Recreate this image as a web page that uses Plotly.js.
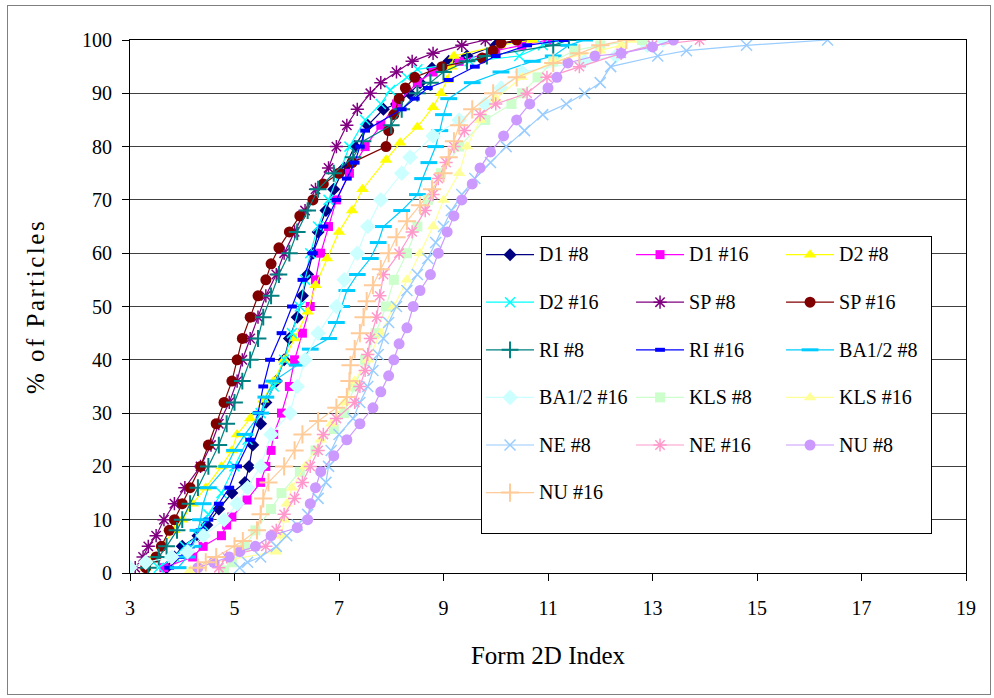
<!DOCTYPE html>
<html><head><meta charset="utf-8">
<script src="https://cdn.plot.ly/plotly-3.0.1.min.js"></script>
<style>
html,body{margin:0;padding:0;background:#fff;}
#wrap{position:relative;width:994px;height:698px;}
#chart{width:994px;height:698px;}
#frame{position:absolute;left:7px;top:5px;width:982px;height:688px;border:1px solid #808080;pointer-events:none;}
.ytitle{letter-spacing:2.5px;}
</style></head><body>
<div id="wrap"><div id="chart"></div><div id="frame"></div></div>
<script>
// ---- data (x = Form 2D Index, y = % of Particles) ----
const d1_8_x = [3.7,3.85,4.0,4.3,4.47,4.7,4.95,5.2,5.28,5.35,5.5,5.6,5.8,5.95,6.05,6.2,6.3,6.4,6.5,6.6,6.75,6.9,7.1,7.3,7.55,7.85,8.1,8.35,8.55,8.78,9.1,9.45,10.0,10.5];
const d1_8_y = [1,3,5,7,9,12,15,17,20,24,28,32,36,40,44,48,52,56,60,64,68,72,76,80,84,87,88,90,92,94.7,96,97,99,100];

const d1_16_x = [3.65,4.2,4.4,4.75,4.85,4.95,5.24,5.5,5.6,5.7,5.75,5.9,6.05,6.15,6.3,6.45,6.55,6.65,6.8,6.95,7.2,7.5,7.8,8.1,8.5,8.8,9.3,10.0,10.5,11.0];
const d1_16_y = [1,3,5,7,9,10.5,13.7,17,20,23,26,30,35,40,45,50,55,60,65,70,75,80,84,88,92,94,96,98,99,100];

const d2_8_x = [3.3,3.45,3.6,3.85,4.0,4.2,4.45,4.75,4.95,5.05,5.3,5.55,5.75,5.95,6.15,6.4,6.55,6.77,7.0,7.25,7.45,7.9,8.17,8.5,8.8,8.95,9.07,9.15,9.2,10.08,10.7];
const d2_8_y = [1,3,5,8,10,13,16,20,23,26,29,32.5,36,40,44,49,54,59,64,68,72,77.5,80.7,83.7,87.4,90,92.5,95,97,99,100];

const d2_16_x = [3.55,3.85,4.05,4.3,4.4,4.5,4.75,5.0,5.25,5.5,5.75,5.95,6.1,6.25,6.35,6.45,6.6,6.8,7.0,7.2,7.5,7.8,7.98,8.3,8.5,9.5,10.45,10.9,11.15];
const d2_16_y = [1,3,5,7,9,11,15,20,25,30,35,40,45,50,55,60,65,70,75,80,85,88,90.6,93,94.5,96,97,99,100];

const sp_8_x = [3.1,3.25,3.35,3.5,3.65,3.85,4.05,4.35,4.55,4.7,4.9,5.05,5.15,5.3,5.45,5.6,5.8,5.95,6.15,6.35,6.55,6.8,6.95,7.15,7.35,7.6,7.8,8.1,8.4,8.8,9.35,9.8];
const sp_8_y = [1,3,5,7,10,13,16,20,24,28,32,36,40,44,48,52,56,60,64,68,72,76,80,84,87,90,92,94,96,97.5,99,100];

const sp_16_x = [3.3,3.5,3.6,3.75,3.85,4.0,4.15,4.35,4.5,4.65,4.8,4.95,5.05,5.15,5.3,5.45,5.6,5.7,5.85,6.05,6.25,6.5,6.7,7.0,7.25,7.9,7.95,8.05,8.15,8.27,8.45,8.97,9.74,9.95,10.1,10.4];
const sp_16_y = [1,3,5,8,10,13,16,20,24,28,32,36,40,44,48,52,55,58,61,64,67,70,73,75,77,80,83,86,89,91,93,95,96.6,98,99.4,100];

const ri_8_x = [3.35,3.55,3.7,3.9,4.0,4.15,4.3,4.5,4.7,4.85,5.0,5.15,5.3,5.45,5.55,5.7,5.85,6.05,6.2,6.4,6.6,6.9,7.27,7.46,8.0,8.2,8.5,8.75,9.0,9.45,9.83,11.1,11.4];
const ri_8_y = [1,3,5,8,10,13,16,20,24,28,32,36,40,44,48,52,56,60,64,68,72,75,78,81,84,87,90,92,94,96,97,99,100];

const ri_16_x = [3.75,3.95,4.15,4.35,4.5,4.7,4.9,5.05,5.3,5.45,5.55,5.68,5.9,6.1,6.3,6.5,6.7,6.95,7.15,7.3,7.4,7.5,8.2,8.45,8.7,9.1,9.6,10.0,10.6,11.3];
const ri_16_y = [1,3,5,8,10,13,16,20,25,30,35,40,45,50,55,60,65,70,74,77,80,83,87,89,91,92.5,95,97,99,100];

const ba_8_x = [3.92,4.1,4.2,4.3,4.35,4.4,4.5,4.85,5.0,5.2,5.5,5.6,5.75,6.2,6.45,6.8,6.95,7.05,7.15,7.35,7.6,7.75,7.85,8.2,8.5,8.6,8.72,8.85,8.93,9.0,9.1,9.55,10.1,10.7,11.1,11.4,11.7];
const ba_8_y = [1,3,5,8,10,13,16,20,23,26,30,33,36,39,42,44,47,50,53,56,59,62,65,68,71,74,77,80,83,86,89,92,94,96,97,99,100];

const ba_16_x = [3.0,3.3,3.8,4.1,4.4,4.8,5.05,5.25,5.5,5.7,6.06,6.2,6.35,6.6,6.95,7.1,7.35,7.55,7.8,8.2,8.36,8.8,9.3,9.8,10.1,10.5,11.7,12.3,12.9,13.2];
const ba_16_y = [1,2,3,4,7,10,13,16,20,26,30,35,40,45,50,55,60,65,70,75,78,82,85,88,91,94,96,97,99,100];

const kls_8_x = [4.8,4.95,5.2,5.4,5.7,5.9,6.25,6.55,6.9,7.1,7.3,7.5,7.7,7.9,8.05,8.3,8.5,8.7,8.95,9.3,9.8,10.3,10.5,10.8,11.1,11.5,12.0,12.8];
const kls_8_y = [0.5,2,5,8,12,15,19,23,27,30,35,40,45,50,55,60,65,70,75,80,85,88,90,93,96,98,99,100];

const kls_16_x = [4.15,4.6,5.8,5.9,5.95,6.0,6.1,6.35,6.65,6.85,7.1,7.3,7.55,7.8,8.05,8.3,8.55,8.8,9.0,9.3,9.45,9.7,10.0,10.5,11.1,12.0,12.4,12.6];
const kls_16_y = [0.5,2,4,7,10,13,16,20,25,28,32,36,40,45,50,55,60,65,70,75,80,85,89,93,96,98,99,100];

const ne_8_x = [5.1,5.25,5.5,5.8,6.0,6.2,6.4,6.6,6.75,6.8,6.85,7.0,7.27,7.4,7.55,7.65,7.75,7.85,7.95,8.1,8.3,8.5,8.7,8.85,9.0,9.15,9.35,9.6,9.9,10.2,10.55,10.9,11.35,11.7,12.0,12.2,13.1,13.65,14.8,16.35];
const ne_8_y = [1,2,3,5,7,9,11,14,17,20,23,26,29,32,35,38,41,44,47,50,53,56,59,62,65,68,71,74,77,80,83,86,88,90,92,95,97,98,99,100];

const ne_16_x = [4.7,4.85,5.6,5.8,5.95,6.15,6.3,6.45,6.6,6.7,6.95,7.3,7.4,7.5,7.55,7.6,7.72,7.78,7.85,8.15,8.4,8.65,8.8,8.9,9.05,9.2,9.4,9.7,10.0,10.6,10.98,11.6,12.4,13.0,13.9];
const ne_16_y = [1,3,5,8,11,14,17,20,23,26,29,32,35,38,41,44,48,52,56,60,64,68,71,74,77,80,83,86,88,90,93,95,97.5,99,100];

const nu_8_x = [4.3,4.6,4.9,5.1,5.4,5.7,6.2,6.4,6.45,6.55,6.65,6.9,7.15,7.4,7.65,7.8,7.95,8.05,8.15,8.3,8.42,8.55,8.75,8.9,9.07,9.2,9.35,9.55,9.7,9.9,10.15,10.4,10.65,11.0,11.17,11.38,11.9,12.4,13.0,13.4];
const nu_8_y = [1,2,3,4,5,7,8.5,10,13,16,19,22,25,28,31,34,37,40,43,46,50,53,56,60,64,67,70,73,76,79,82,85,88,91,93,95.7,97,97.5,98.7,100];

const nu_16_x = [4.3,4.45,4.65,5.0,5.16,5.43,5.5,5.55,5.65,5.95,6.15,6.3,6.6,6.95,7.15,7.2,7.22,7.3,7.4,7.47,7.53,7.65,7.8,7.95,8.1,8.3,8.55,8.78,9.0,9.1,9.2,9.3,9.55,9.95,10.4,11.1,11.6,12.0,12.5];
const nu_16_y = [1,2,3,5,6,8,11,14,17,20,23,26,28.5,31,33,36,39,42,45,48,51,54,57,60,63,66,69,72,75,78,81,84,87,90,93,95.7,97.5,99,100];

const seriesNames = ['D1 #8','D1 #16','D2 #8','D2 #16','SP #8','SP #16','RI #8','RI #16','BA1/2 #8','BA1/2 #16','KLS #8','KLS #16','NE #8','NE #16','NU #8','NU #16'];
const seriesX = [d1_8_x,d1_16_x,d2_8_x,d2_16_x,sp_8_x,sp_16_x,ri_8_x,ri_16_x,ba_8_x,ba_16_x,kls_8_x,kls_16_x,ne_8_x,ne_16_x,nu_8_x,nu_16_x];
const seriesY = [d1_8_y,d1_16_y,d2_8_y,d2_16_y,sp_8_y,sp_16_y,ri_8_y,ri_16_y,ba_8_y,ba_16_y,kls_8_y,kls_16_y,ne_8_y,ne_16_y,nu_8_y,nu_16_y];
const xTicks = [3,5,7,9,11,13,15,17,19];
const yTicks = [0,10,20,30,40,50,60,70,80,90,100];

// ---- styles ----
const colors = ['#000080','#FF00FF','#FFFF00','#00FFFF','#800080','#800000','#008080','#0000FF','#00CCFF','#CCFFFF','#CCFFCC','#FFFF99','#99CCFF','#FF99CC','#CC99FF','#FFCC99'];
const symbols = ['diamond','square','triangle-up','x-thin-open','asterisk-open','circle','cross-thin-open','line-ew-open','line-ew-open','diamond','square','triangle-up','x-thin-open','asterisk-open','circle','cross-thin-open'];
const sizes = [10,9,11,10,11,11,12,7,12,12,10,11,11,11,11,13];
const mlw = [0,0,0,1.5,1.5,0,2,4,3,0,0,0,1.5,1.5,0,2];
const groups = ['c1','c2','c3','c1','c2','c3','c1','c2','c3','c1','c2','c3','c1','c2','c3','c1'];

const FONT = 'Liberation Serif, Times New Roman, serif';
const traces = seriesNames.map((n,i)=>({
  type:'scatter', mode:'lines+markers', name:'<span style="font-size:20px">'+n+'</span><br>\u00a0',
  x:seriesX[i], y:seriesY[i], legendgroup:groups[i],
  line:{color:colors[i], width:1.2},
  marker:{symbol:symbols[i], size:sizes[i], color:colors[i], line:{width:mlw[i], color:colors[i]}},
  hoverinfo:'x+y'
}));

const layout = {
  width:994, height:698,
  margin:{l:130, r:28, t:40, b:125},
  paper_bgcolor:'#fff', plot_bgcolor:'#fff',
  font:{family:FONT, color:'#000', size:20},
  showlegend:true,
  xaxis:{range:[3,19], tickvals:xTicks, ticks:'outside', ticklen:7, tickcolor:'#000',
    showline:true, linecolor:'#000', linewidth:1, mirror:true, showgrid:false, zeroline:false,
    tickfont:{family:FONT, size:20, color:'#000'}, ticklabelstandoff:10,
    title:{text:'Form 2D Index', font:{family:FONT, size:25, color:'#000'}, standoff:28}},
  yaxis:{range:[0,100], tickvals:yTicks, ticks:'outside', ticklen:7, tickcolor:'#000',
    showline:true, linecolor:'#000', linewidth:1, mirror:true, showgrid:true, gridcolor:'#404040', gridwidth:1, zeroline:false,
    tickfont:{family:FONT, size:20, color:'#000'}, ticklabelstandoff:6,
    title:{text:'% of Particles', font:{family:FONT, size:25, color:'#000'}, standoff:30}},
  legend:{orientation:'h', traceorder:'grouped', tracegroupgap:0, itemwidth:48, entrywidth:87,
    x:0.4199, xanchor:'left', y:0.6323, yanchor:'top', valign:'top',
    bgcolor:'#fff', bordercolor:'#000', borderwidth:1, font:{family:FONT, size:17.15, color:'#000'}, itemclick:false, itemdoubleclick:false}
};
Plotly.newPlot('chart', traces, layout, {displayModeBar:false, staticPlot:true});
</script>
</body></html>
